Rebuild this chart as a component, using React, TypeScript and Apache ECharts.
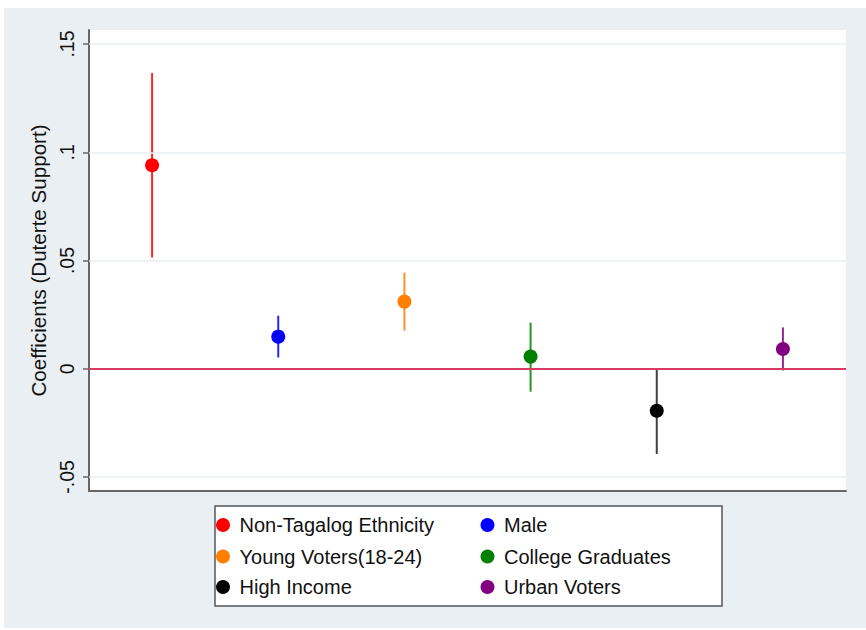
import React, { useEffect, useRef } from 'react';
import * as echarts from 'echarts';

const categories = [
  'Non-Tagalog Ethnicity',
  'Male',
  'Young Voters(18-24)',
  'College Graduates',
  'High Income',
  'Urban Voters',
];
const coefficients = [0.094, 0.0148, 0.031, 0.0056, -0.0194, 0.0091];
const ciLower = [0.0514, 0.0052, 0.0176, -0.0106, -0.0394, -0.0008];
const ciUpper = [0.1366, 0.0245, 0.0444, 0.0213, 0.0, 0.0191];
const colors = ['#ff0000', '#0000ff', '#ff7f00', '#008000', '#000000', '#800080'];
const yTickValues = [-0.05, 0, 0.05, 0.1, 0.15];
const yTickLabels = ['-.05', '0', '.05', '.1', '.15'];
const yMin = -0.0565;
const yMax = 0.1565;

const FONT = '"Liberation Sans", Arial, Helvetica, sans-serif';

export default function App() {
  const ref = useRef<HTMLDivElement>(null);

  useEffect(() => {
    if (!ref.current) return;
    const chart = echarts.init(ref.current, undefined, { renderer: 'svg' });

    const series: any[] = [];
    categories.forEach((name, i) => {
      series.push({
        name,
        type: 'scatter',
        data: [[i, coefficients[i]]],
        symbol: 'circle',
        symbolSize: 14,
        itemStyle: { color: colors[i], opacity: 1 },
        z: 4,
      });
    });
    categories.forEach((name, i) => {
      series.push({
        name,
        type: 'line',
        data: [
          [i, ciLower[i]],
          [i, ciUpper[i]],
        ],
        symbol: 'none',
        showSymbol: false,
        lineStyle: { color: colors[i], width: 2, opacity: i === 4 ? 0.75 : 0.85 },
        z: 3,
      });
    });
    series.push({
      name: '__grid',
      type: 'line',
      data: [],
      silent: true,
      z: 1,
      markLine: {
        silent: true,
        symbol: ['none', 'none'],
        label: { show: false },
        data: yTickValues
          .filter((v) => v !== 0)
          .map((v) => ({ yAxis: v, lineStyle: { color: '#e8eef2', width: 1.5, type: 'solid' } })),
      },
    });
    series.push({
      name: '__zero',
      type: 'line',
      data: [],
      silent: true,
      z: 2,
      markLine: {
        silent: true,
        symbol: ['none', 'none'],
        label: { show: false },
        data: [{ yAxis: 0, lineStyle: { color: '#d83a62', width: 2.2, type: 'solid' } }],
      },
    });

    const legendLeft = [216, 480.5];
    const legendTop = [515, 546.5, 577];
    const legends = categories.map((name, i) => ({
      data: [{ name, icon: 'circle', itemStyle: { color: colors[i], opacity: 1 } }],
      left: legendLeft[i % 2],
      top: legendTop[Math.floor(i / 2)],
      orient: 'horizontal',
      itemWidth: 23,
      itemHeight: 14,
      itemGap: 0,
      padding: 0,
      textStyle: { fontSize: 20, color: '#111', fontFamily: FONT, lineHeight: 20 },
    }));

    chart.setOption({
      animation: false,
      backgroundColor: '#ffffff',
      textStyle: { fontFamily: FONT },
      graphic: [
        {
          type: 'rect',
          z: -100,
          shape: { x: 4, y: 8, width: 862, height: 620 },
          style: { fill: '#e9eff2' },
          silent: true,
        },
        {
          type: 'rect',
          z: 0,
          shape: { x: 215, y: 506, width: 507, height: 100 },
          style: { fill: '#ffffff', stroke: '#555555', lineWidth: 1.5 },
          silent: true,
        },
      ],
      grid: {
        left: 89,
        right: 20,
        top: 30,
        bottom: 139,
        show: true,
        backgroundColor: '#ffffff',
        borderWidth: 0,
      },
      legend: legends,
      xAxis: {
        type: 'category',
        data: categories,
        boundaryGap: true,
        axisLine: { show: true, onZero: false, lineStyle: { color: '#666666', width: 2 } },
        axisTick: { show: false },
        axisLabel: { show: false },
        splitLine: { show: false },
      },
      yAxis: {
        type: 'value',
        min: yMin,
        max: yMax,
        name: 'Coefficients (Duterte Support)',
        nameLocation: 'middle',
        nameGap: 36,
        nameRotate: 90,
        nameTextStyle: { fontSize: 20.6, color: '#111', fontFamily: FONT },
        axisLine: { show: true, lineStyle: { color: '#666666', width: 2 } },
        axisTick: {
          show: true,
          length: 6,
          customValues: yTickValues,
          lineStyle: { color: '#666666', width: 1.5 },
        },
        axisLabel: {
          show: true,
          rotate: 90,
          margin: 12,
          fontSize: 19.5,
          color: '#111',
          fontFamily: FONT,
          customValues: yTickValues,
          formatter: (v: number) => {
            const k = yTickValues.findIndex((t) => Math.abs(t - v) < 1e-9);
            return k >= 0 ? yTickLabels[k] : '';
          },
        },
        splitLine: { show: false },
      },
      series,
    });

    return () => chart.dispose();
  }, []);

  return (
    <div
      ref={ref}
      style={{ position: 'absolute', left: 0, top: 0, width: 866, height: 630 }}
    />
  );
}
